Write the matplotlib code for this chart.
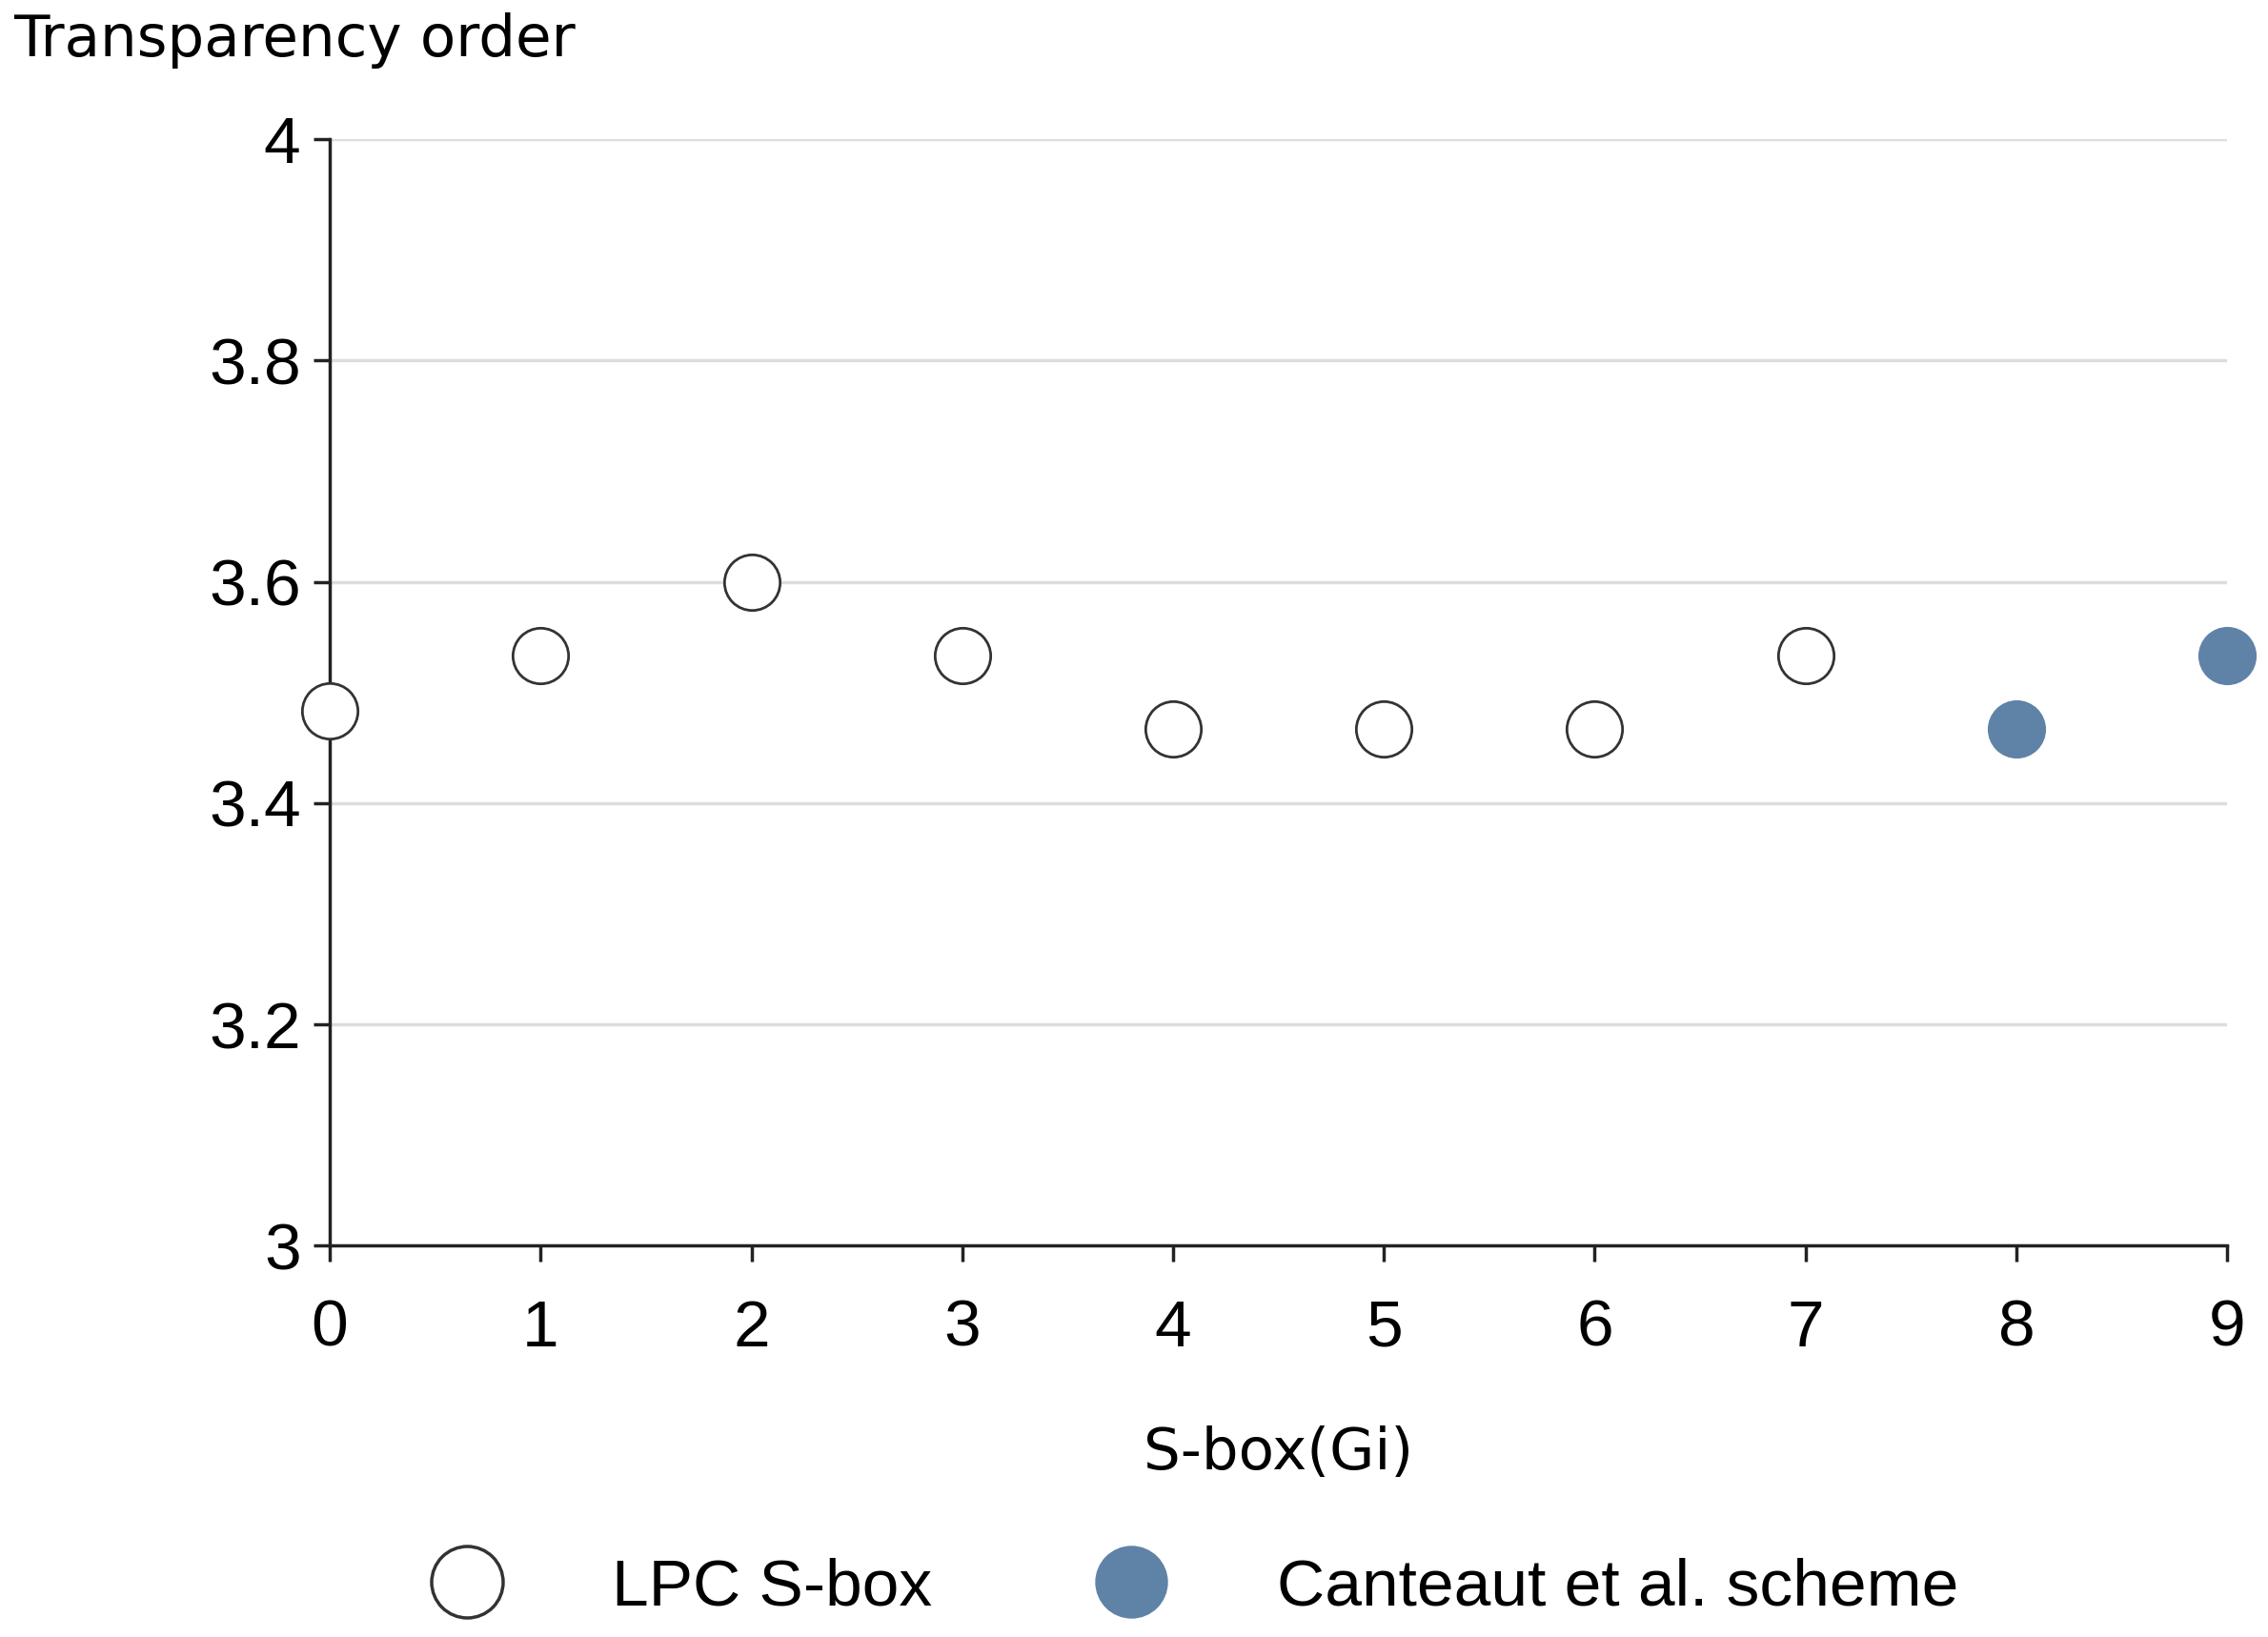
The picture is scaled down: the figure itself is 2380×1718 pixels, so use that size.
import matplotlib.pyplot as plt
from matplotlib.lines import Line2D

# data
lpc_x = [0, 1, 2, 3, 4, 5, 6, 7]
lpc_y = [3.483, 3.533, 3.6, 3.533, 3.467, 3.467, 3.467, 3.533]
can_x = [8, 9]
can_y = [3.467, 3.533]
yticks = [3, 3.2, 3.4, 3.6, 3.8, 4]

plt.rcParams['font.family'] = ['Liberation Sans', 'DejaVu Sans']
fig = plt.figure(figsize=(23.8, 17.18), dpi=100)
ax = fig.add_axes([0.1454, 0.239, 0.982 - 0.1454, 0.915 - 0.239])

ax.scatter(lpc_x, lpc_y, s=42**2, facecolor='white', edgecolor='#333333', linewidth=2, zorder=3, clip_on=False)
ax.scatter(can_x, can_y, s=42**2, facecolor='#5f83a6', edgecolor='#5f83a6', linewidth=2, zorder=3, clip_on=False)

ax.set_xlim(0, 9)
ax.set_ylim(3, 4)
ax.set_xticks(range(10))
ax.set_yticks(yticks)
ax.set_yticklabels(['3', '3.2', '3.4', '3.6', '3.8', '4'])
ax.tick_params(labelsize=50, length=12, width=2.5, color='#222222', pad=10)
ax.tick_params(axis='x', pad=28)
ax.grid(axis='y', color='#dddddd', linewidth=2.5)
ax.set_axisbelow(True)
for s in ['top', 'right']:
    ax.spines[s].set_visible(False)
for s in ['left', 'bottom']:
    ax.spines[s].set_linewidth(2.5)
    ax.spines[s].set_color('#222222')

ax.set_xlabel('S-box(Gi)', fontsize=44, labelpad=50, family=['DejaVu Sans'])
fig.text(0.006, 0.975, 'Transparency order', fontsize=44, va='center', ha='left', family=['DejaVu Sans'])

handles = [
    Line2D([], [], marker='o', linestyle='', markersize=54, markerfacecolor='white', markeredgecolor='#333333', markeredgewidth=2.5),
    Line2D([], [], marker='o', linestyle='', markersize=54, markerfacecolor='#5f83a6', markeredgecolor='#5f83a6'),
]
fig.legend(handles, ['LPC S-box', 'Canteaut et al. scheme'], loc='center', bbox_to_anchor=(0.52, 0.03),
           ncol=2, frameon=False, fontsize=50, columnspacing=2.0, handletextpad=1.2)

fig.savefig('out.png', dpi=100)
